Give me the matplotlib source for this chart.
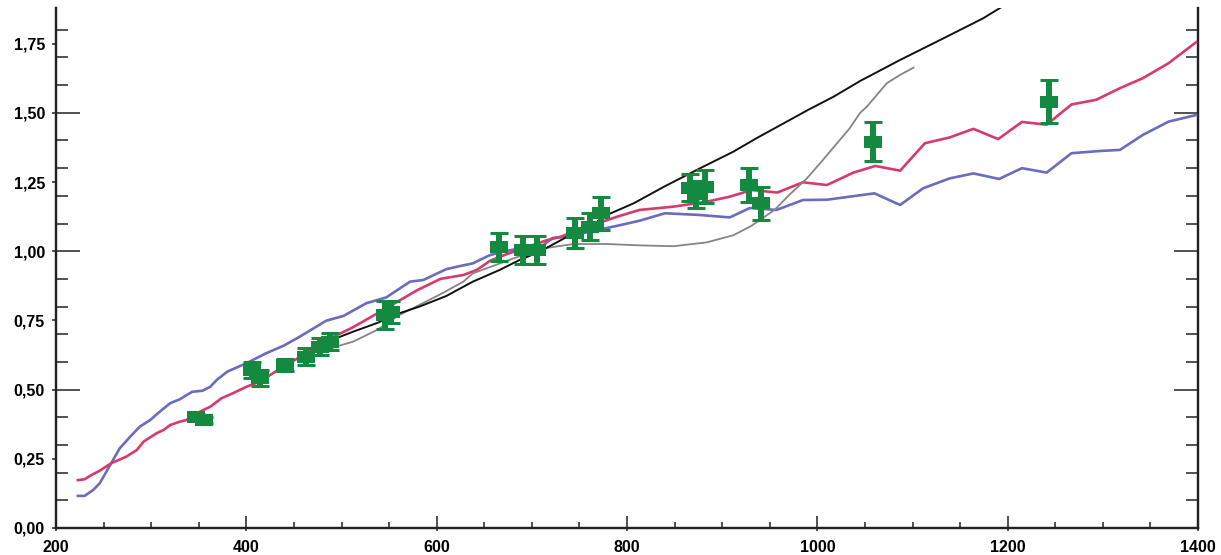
import matplotlib
matplotlib.use("Agg")
import matplotlib.pyplot as plt
from matplotlib.ticker import MultipleLocator, FixedLocator, FuncFormatter
from matplotlib.path import Path

# ---------------- data ----------------
blue_x = [223, 230, 239, 246, 258, 267, 278, 288, 299, 309, 320, 330, 343, 354, 362, 369,
          380, 400, 420, 440, 456, 484, 502, 526, 547, 572, 586, 610, 624, 638, 656, 672,
          687, 712, 722, 737, 760, 790, 813, 840, 876, 908, 929, 957, 985, 1010, 1034,
          1060, 1087, 1111, 1139, 1164, 1191, 1215, 1241, 1267, 1297, 1318, 1342, 1369, 1398]
blue_y = [0.116, 0.116, 0.137, 0.162, 0.234, 0.288, 0.330, 0.366, 0.390, 0.420, 0.451, 0.465,
          0.492, 0.496, 0.510, 0.535, 0.565, 0.595, 0.630, 0.660, 0.691, 0.749, 0.766, 0.812,
          0.833, 0.890, 0.896, 0.935, 0.946, 0.956, 0.986, 1.000, 1.010, 1.022, 1.048, 1.052,
          1.070, 1.092, 1.110, 1.137, 1.131, 1.122, 1.156, 1.149, 1.185, 1.186, 1.197, 1.209,
          1.167, 1.227, 1.263, 1.281, 1.261, 1.300, 1.284, 1.354, 1.362, 1.366, 1.420, 1.468,
          1.492]

red_x = [223, 230, 237, 246, 258, 274, 285, 292, 306, 313, 320, 330, 337, 348, 362, 374, 386,
         400, 414, 440, 465, 491, 512, 540, 561, 580, 604, 628, 642, 656, 674, 695, 716, 730,
         760, 790, 813, 849, 884, 908, 931, 958, 985, 1010, 1038, 1061, 1087, 1113, 1139,
         1164, 1190, 1215, 1241, 1267, 1293, 1318, 1342, 1369, 1398]
red_y = [0.173, 0.176, 0.191, 0.207, 0.234, 0.258, 0.282, 0.312, 0.343, 0.354, 0.372, 0.384,
         0.390, 0.415, 0.438, 0.469, 0.487, 0.510, 0.529, 0.585, 0.635, 0.690, 0.725, 0.780,
         0.822, 0.860, 0.900, 0.914, 0.932, 0.965, 0.990, 1.015, 1.040, 1.052, 1.090, 1.125,
         1.149, 1.161, 1.179, 1.197, 1.221, 1.212, 1.249, 1.239, 1.284, 1.308, 1.291, 1.390,
         1.411, 1.442, 1.405, 1.467, 1.457, 1.530, 1.547, 1.589, 1.625, 1.679, 1.755]

black_x = [470, 491, 512, 537, 561, 582, 610, 638, 666, 687, 708, 737, 761, 779, 807, 840,
           877, 912, 936, 971, 990, 1017, 1045, 1087, 1129, 1174, 1195]
black_y = [0.640, 0.681, 0.709, 0.740, 0.776, 0.800, 0.838, 0.890, 0.932, 0.968, 0.998, 1.052,
           1.089, 1.131, 1.173, 1.235, 1.300, 1.360, 1.408, 1.474, 1.510, 1.558, 1.615, 1.691,
           1.763, 1.841, 1.885]

gray_x = [470, 491, 512, 537, 561, 582, 607, 628, 638, 684, 708, 744, 779, 814, 849, 884, 912,
          930, 955, 971, 989, 1006, 1017, 1034, 1045, 1052, 1073, 1087, 1101]
gray_y = [0.620, 0.652, 0.673, 0.715, 0.770, 0.806, 0.850, 0.890, 0.920, 0.978, 1.008, 1.026,
          1.026, 1.021, 1.018, 1.032, 1.058, 1.090, 1.149, 1.205, 1.263, 1.330, 1.375, 1.444,
          1.500, 1.522, 1.607, 1.637, 1.663]

pts_x = [347, 356, 406, 414, 441, 463, 477, 488, 546, 552, 666, 691, 705, 745, 761, 773,
         866, 873, 882, 928, 941, 1059, 1243]
pts_y = [0.402, 0.390, 0.571, 0.542, 0.589, 0.619, 0.655, 0.673, 0.770, 0.780, 1.016, 1.004,
         1.004, 1.065, 1.089, 1.137, 1.230, 1.205, 1.233, 1.239, 1.173, 1.396, 1.540]
pts_err = [0.01, 0.01, 0.03, 0.03, 0.02, 0.03, 0.03, 0.03, 0.05, 0.04, 0.05, 0.05, 0.05,
           0.054, 0.05, 0.06, 0.05, 0.05, 0.06, 0.063, 0.059, 0.07, 0.077]

x_labels_at = [200, 400, 600, 800, 1000, 1200, 1400]

# ---------------- figure ----------------
plt.rcParams['font.family'] = ['Liberation Sans', 'DejaVu Sans']
fig = plt.figure(figsize=(12.21, 5.55), dpi=100)
ax = fig.add_axes([56 / 1221, 1 - 528 / 555, (1198 - 56) / 1221, (528 - 8) / 555])

ax.plot(blue_x, blue_y, color='#6b6bbf', lw=1.9, zorder=3)
ax.plot(red_x, red_y, color='#d83a6c', lw=1.9, zorder=3)
ax.plot(gray_x, gray_y, color='#858585', lw=1.3, zorder=3)
ax.plot(black_x, black_y, color='#111111', lw=1.4, zorder=3)

rect = Path([(-1, -0.62), (1, -0.62), (1, 0.62), (-1, 0.62), (-1, -0.62)],
            [Path.MOVETO, Path.LINETO, Path.LINETO, Path.LINETO, Path.CLOSEPOLY])
ax.errorbar(pts_x, pts_y, yerr=pts_err, fmt='none', ecolor='#138a40',
            elinewidth=4.3, capsize=6.8, capthick=2.2, zorder=4)
ax.plot(pts_x, pts_y, linestyle='none', marker=rect, markersize=13,
        color='#138a40', markeredgewidth=0, zorder=5)

ax.set_xlim(200, 1400)
ax.set_ylim(0, 520 / 276.8)

for s in ['left', 'bottom', 'right']:
    ax.spines[s].set_linewidth(1.6)
    ax.spines[s].set_color('#222222')
ax.spines['top'].set_visible(False)

comma = FuncFormatter(lambda v, p: f"{v:.2f}".replace('.', ','))
ax.yaxis.set_major_locator(MultipleLocator(0.25))
ax.yaxis.set_major_formatter(comma)
ax.yaxis.set_minor_locator(MultipleLocator(0.1))
ax.xaxis.set_major_locator(FixedLocator(x_labels_at))
ax.xaxis.set_minor_locator(MultipleLocator(50))

ax.tick_params(axis='y', which='major', direction='out', length=3, width=1.2,
               color='#333333', pad=5, labelsize=11.5, left=True, right=False)
ax.tick_params(axis='y', which='minor', direction='in', length=8.5, width=1.2,
               color='#333333', left=True, right=True)
ax.tick_params(axis='x', which='major', direction='out', length=2, width=1.2,
               color='#333333', pad=7, labelsize=11.5)
ax.tick_params(axis='x', which='minor', direction='in', length=4.3, width=1.2,
               color='#333333')
for lab in ax.get_xticklabels() + ax.get_yticklabels():
    lab.set_fontweight('bold')

long_y = [0.0, 0.5, 1.0, 1.5]
for side in ['left', 'right']:
    sec = ax.secondary_yaxis(side)
    sec.set_yticks(long_y)
    sec.tick_params(direction='in', length=17, width=1.2, color='#333333',
                    labelleft=False, labelright=False)
    sec.spines[side].set_linewidth(1.6)
    sec.spines[side].set_color('#222222')

secx = ax.secondary_xaxis('bottom')
secx.set_xticks(x_labels_at)
secx.tick_params(direction='in', length=8.5, width=1.2, color='#333333', labelbottom=False)
secx.spines['bottom'].set_linewidth(1.6)
secx.spines['bottom'].set_color('#222222')

fig.savefig('out.png', dpi=100)
